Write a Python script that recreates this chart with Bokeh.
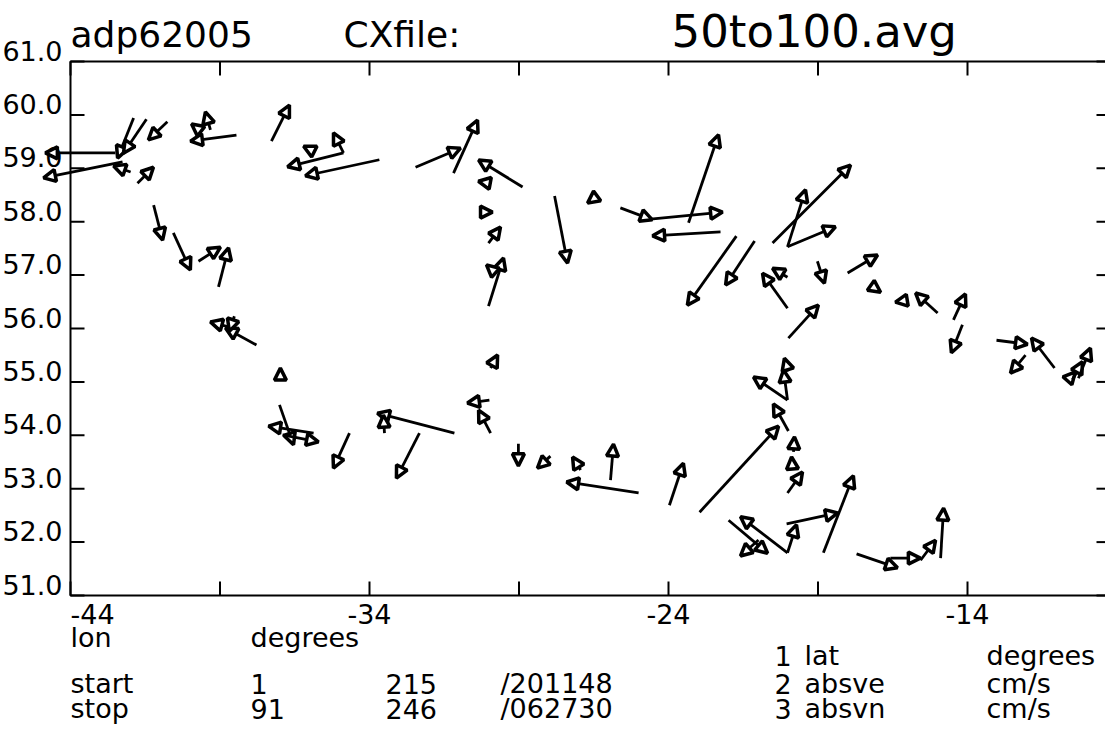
from bokeh.plotting import figure
from bokeh.models import Range1d, Arrow, NormalHead, ColumnDataSource
from bokeh.core.properties import value
from bokeh.embed import file_html
from bokeh.resources import INLINE

# ---------------- data (lon/lat of each record, velocity components) -------
lon = [-41.89, -41.46, -42.50, -42.26, -41.99, -41.76, -40.76, -39.32, -39.65,
       -38.45, -37.28, -35.87, -34.87, -34.87, -33.67, -32.46, -31.19, -28.88,
       -29.99, -23.33, -30.22, -30.02, -30.02, -29.82, -27.81, -26.44, -25.61,
       -24.60, -22.26, -21.73, -21.12, -20.52, -20.02, -20.02, -20.02, -20.02,
       -19.02, -18.01, -17.24, -16.01, -15.00, -14.47, -14.17, -13.03, -12.06,
       -11.09, -10.66, -10.49, -10.29, -20.02, -20.02, -19.99, -19.99, -19.99,
       -19.82, -19.85, -20.02, -22.96, -23.97, -25.94, -25.00, -26.94, -27.95,
       -29.02, -21.99, -20.02, -20.02, -20.99, -20.05, -18.82, -17.71, -16.58,
       -15.57, -14.90, -37.78, -38.52, -38.72, -36.98, -37.01, -35.87, -36.91,
       -34.67, -32.33, -31.16, -33.50, -29.99, -29.95, -29.95, -41.22, -40.56,
       -39.72, -39.05]
lat = [59.94, 59.92, 59.29, 59.12, 58.93, 58.72, 59.87, 59.72, 59.70,
       59.62, 59.51, 59.32, 59.29, 59.29, 59.16, 59.02, 58.91, 58.65,
       58.72, 57.98, 58.18, 57.60, 56.42, 57.06, 58.48, 58.46, 58.26,
       58.05, 57.81, 57.73, 57.64, 57.60, 57.53, 57.53, 56.96, 56.38,
       57.26, 57.04, 56.81, 56.53, 56.29, 56.16, 56.07, 55.78, 55.50,
       55.26, 55.02, 55.04, 55.07, 54.66, 54.66, 55.20, 55.82, 54.08,
       53.69, 53.35, 52.92, 52.56, 52.69, 53.16, 52.92, 53.35, 53.61,
       53.84, 52.41, 51.80, 51.80, 52.04, 52.34, 51.80, 51.78, 51.70,
       51.66, 51.70, 55.69, 56.23, 56.03, 55.09, 54.57, 54.04, 54.01,
       54.04, 54.04, 54.04, 54.04, 54.66, 54.04, 55.26, 58.31, 57.79,
       57.26, 56.78]
absve = [-3.2, -4.6, -14.0, -15.8, -3.4, 3.2, -3.8, -1.0, -1.8,
         -9.2, 3.6, -2.0, -2.0, -11.2, -14.8, 9.0, 4.8, -8.8,
         -2.2, 6.0, 2.0, 2.4, 3.0, -1.6, 2.6, -1.6, 6.4,
         14.4, -13.6, -9.8, -5.8, 15.6, 3.6, 9.6, -3.0, -5.0,
         1.4, 6.0, 2.0, -2.4, -4.4, 2.4, -2.2, 6.2, -3.0,
         -4.6, 1.6, 2.0, 2.4, -6.8, -0.8, -0.8, 6.0, -3.0,
         0.2, -0.2, 3.0, 15.8, 2.8, 0.6, -14.4, -1.6, -2.6,
         0.0, 7.8, -9.4, 1.8, -3.6, 10.2, 6.0, 8.2, 6.0,
         3.0, 0.6, -6.2, -1.0, -3.6, 0.0, 2.8, -9.0, 7.2,
         -3.2, -4.6, -15.4, -0.2, -4.4, -2.4, 1.4, 1.8, 3.4,
         4.4, 2.0]
absvn = [-8.0, -6.8, 0.0, -3.2, 1.2, 3.2, -3.6, 3.6, 1.4,
         -1.2, 7.2, 1.0, 4.0, -2.8, -3.2, 3.8, 10.6, 5.4,
         0.4, 17.6, 0.0, 3.2, 9.6, 1.4, -13.4, -1.2, -2.4,
         1.4, -0.8, -13.8, -8.8, 15.6, 11.4, 4.0, 1.8, 7.0,
         -4.4, 3.6, -1.4, -0.4, 4.0, 5.2, -5.6, -0.8, -3.6,
         6.0, 1.8, 3.6, 6.0, 4.6, 6.0, 2.6, 6.6, 5.4,
         3.0, 2.6, 4.2, 17.2, 8.4, 7.2, 2.2, 2.6, -2.4,
         -4.4, -6.6, 7.2, 5.6, -3.2, 2.2, 15.4, -2.8, 0.0,
         4.0, 10.0, 3.4, -3.0, 1.0, 1.8, -8.0, 1.4, -1.4,
         -7.0, -9.0, 4.0, 3.6, -0.6, 4.6, 2.6, -7.0, -7.4,
         2.8, 7.8]

x_ticks = [-44, -39, -34, -29, -24, -19, -14]
x_tick_label_values = [-44, -34, -24, -14]
x_tick_labels = ["-44", "-34", "-24", "-14"]
y_ticks = [51, 52, 53, 54, 55, 56, 57, 58, 59, 60, 61]
y_tick_labels = ["51.0", "52.0", "53.0", "54.0", "55.0", "56.0", "57.0",
                 "58.0", "59.0", "60.0", "61.0"]

# ---------------- geometry -------------------------------------------------
W, H = 1105, 729
FL, FT = 70, 61          # pixel position of the lon=-44 / lat=61 corner
PXLON = 29.9             # pixels per degree of longitude
PXLAT = 53.4             # pixels per degree of latitude
X0, Y0, Y1 = -44.0, 51.0, 61.0
XR = X0 + (W + 5 - FL) / PXLON   # right frame edge (just off the page)
CMS_PX = 5.0             # pixels per cm/s of velocity
TICK = 14                # tick length in pixels
FONT = "DejaVu Sans"

x_lo = X0 - FL / PXLON
x_hi = X0 + (W - FL) / PXLON
y_hi = Y1 + FT / PXLAT
y_lo = Y1 - (H - FT) / PXLAT

p = figure(width=W, height=H, x_range=Range1d(x_lo, x_hi),
           y_range=Range1d(y_lo, y_hi), x_axis_type=None, y_axis_type=None,
           toolbar_location=None, output_backend="svg", min_border=0)
p.outline_line_color = None
p.background_fill_color = "white"
p.border_fill_color = "white"


def px2x(px):
    return X0 + (px - FL) / PXLON


def py2y(py):
    return Y1 - (py - FT) / PXLAT


# ---------------- frame & ticks -------------------------------------------
p.quad(left=[X0], right=[XR], bottom=[Y0], top=[Y1], fill_color=None,
       line_color="black", line_width=2)
tx = TICK / PXLON
ty = TICK / PXLAT
p.segment(x0=x_ticks, y0=[Y0] * len(x_ticks), x1=x_ticks,
          y1=[Y0 + ty] * len(x_ticks), line_color="black", line_width=2)
p.segment(x0=x_ticks, y0=[Y1] * len(x_ticks), x1=x_ticks,
          y1=[Y1 - ty] * len(x_ticks), line_color="black", line_width=2)
p.segment(x0=[X0] * len(y_ticks), y0=y_ticks, x1=[X0 + tx] * len(y_ticks),
          y1=y_ticks, line_color="black", line_width=2)
p.segment(x0=[XR] * len(y_ticks), y0=y_ticks, x1=[XR - tx] * len(y_ticks),
          y1=y_ticks, line_color="black", line_width=2)

# ---------------- vectors --------------------------------------------------
sx = CMS_PX / PXLON
sy = CMS_PX / PXLAT
src = ColumnDataSource(dict(
    x0=lon, y0=lat,
    x1=[a + u * sx for a, u in zip(lon, absve)],
    y1=[b + v * sy for b, v in zip(lat, absvn)]))
head = NormalHead(size=12, fill_color="white", line_color="black",
                  line_width=3.5)
p.add_layout(Arrow(end=head, x_start="x0", y_start="y0", x_end="x1",
                   y_end="y1", source=src, line_color="black",
                   line_width=2.8))

# ---------------- texts (y given as the visual middle of the glyphs) -------
def texts(items, size, align="left"):
    p.text(x=[px2x(a) for _, a, _ in items], y=[py2y(b) for _, _, b in items],
           text=[t for t, _, _ in items], text_font=value(FONT),
           text_font_size=value(f"{size}px"), text_align=align,
           text_baseline="alphabetic", text_color="black")


LBL_UP = 11 / PXLAT
p.text(x=[px2x(62)] * len(y_ticks), y=[t + LBL_UP for t in y_ticks],
       text=y_tick_labels, text_font=value(FONT),
       text_font_size=value("27px"), text_align="right",
       text_baseline="alphabetic", text_color="black")
ROW0 = py2y(613)
p.text(x=x_tick_label_values[:1], y=[ROW0], text=x_tick_labels[:1],
       text_font=value(FONT), text_font_size=value("27px"),
       text_align="left", text_baseline="alphabetic", text_color="black")
p.text(x=x_tick_label_values[1:], y=[ROW0] * 3, text=x_tick_labels[1:],
       text_font=value(FONT), text_font_size=value("27px"),
       text_align="center", text_baseline="alphabetic", text_color="black")

# header
texts([("adp62005", 70, 34), ("CXfile:", 343, 34)], 36)
texts([("50to100.avg", 671, 31)], 45)

# footer
cols = (70, 250, 385, 500, 774, 804, 986)
footer = [("lon", 70, 637), ("degrees", 250, 637),
          ("1", 774, 655), ("lat", 804, 655), ("degrees", 986, 655)]
for row, y in (("start 1 215 /201148 2 absve cm/s", 683),
               ("stop 91 246 /062730 3 absvn cm/s", 708)):
    for t, x in zip(row.split(), cols):
        footer.append((t, x, y))
texts(footer, 27)

open("out.html", "w").write(file_html(p, INLINE))
